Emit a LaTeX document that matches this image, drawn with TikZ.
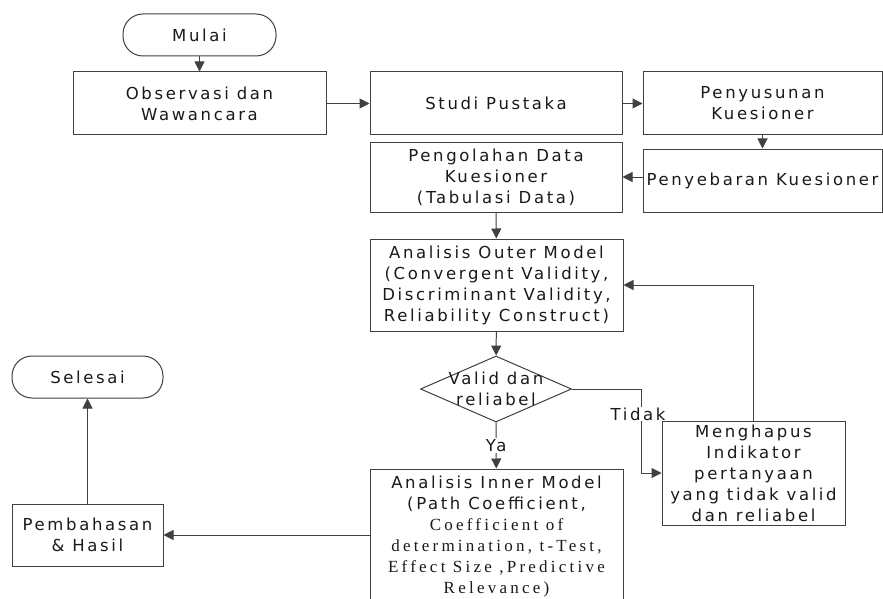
\documentclass[tikz,border=0pt]{standalone}
\usepackage{fontspec}
\usetikzlibrary{arrows.meta,shapes.geometric}
\newfontfamily\diasans{DejaVu Sans}[LetterSpace=16]
\newfontfamily\diaserif{Liberation Serif}[LetterSpace=19]
\definecolor{linec}{HTML}{404040}
\definecolor{textc}{HTML}{1A1A1A}
\begin{document}
\begin{tikzpicture}[x=1pt,y=-1pt,
  procbox/.style={draw=linec, line width=1pt, align=center, inner sep=0pt, text=textc, font=\diasans\fontsize{16.5}{21}\selectfont},
  termbox/.style={procbox, rounded corners=20pt},
  decbox/.style={draw=linec, line width=1pt, diamond, inner sep=0pt},
  conn/.style={draw=linec, line width=1pt, -{Triangle[length=10pt,width=10pt]}},
  lbl/.style={text=textc, font=\diasans\fontsize{16.5}{21}\selectfont, inner sep=1pt, align=center}]
\useasboundingbox[fill=white] (0,0) rectangle (883,599);

\node[termbox, minimum width=153pt, minimum height=42pt] (mulai) at (199.5,35) {Mulai};
\node[procbox, minimum width=253pt, minimum height=63pt] (obs) at (199.5,103.5) {Observasi dan\\Wawancara};
\node[procbox, minimum width=252pt, minimum height=63pt] (studi) at (496,103.5) {Studi Pustaka};
\node[procbox, minimum width=239pt, minimum height=63pt] (penyus) at (762.5,103.5) {Penyusunan\\Kuesioner};
\node[procbox, minimum width=239pt, minimum height=63pt] (penyeb) at (762.5,180.5) {Penyebaran Kuesioner};
\node[procbox, minimum width=252pt, minimum height=70pt] (pengol) at (496,177) {Pengolahan Data\\Kuesioner\\(Tabulasi Data)};
\node[procbox, minimum width=253pt, minimum height=92pt] (outer) at (496.5,285) {Analisis Outer Model\\(Convergent Validity,\\Discriminant Validity,\\Reliability Construct)};
\node[decbox, minimum width=151pt, minimum height=66pt] (dec) at (496,389) {};
\node[lbl] (dectext) at (dec.center) {Valid dan\\reliabel};
\node[procbox, minimum width=253pt, minimum height=135pt] (inner) at (496.5,536.5) {Analisis Inner Model\\(Path Coefficient,\\{\diaserif\fontsize{17}{21}\selectfont Coefficient of}\\{\diaserif\fontsize{17}{21}\selectfont determination, t-Test,}\\{\diaserif\fontsize{17}{21}\selectfont Effect Size ,Predictive}\\{\diaserif\fontsize{17}{21}\selectfont Relevance)}};
\node[procbox, minimum width=183pt, minimum height=104pt] (hapus) at (753.5,473) {Menghapus\\Indikator\\pertanyaan\\yang tidak valid\\dan reliabel};
\node[procbox, minimum width=151pt, minimum height=62pt] (pemb) at (87.5,535) {Pembahasan\\\& Hasil};
\node[termbox, minimum width=151pt, minimum height=42pt] (selesai) at (87.5,377) {Selesai};

\coordinate (tj) at (641,389);

\draw[conn] (mulai) -- (obs);
\draw[conn] (obs) -- (studi);
\draw[conn] (studi) -- (penyus);
\draw[conn] (penyus) -- (penyeb);
\draw[conn] (penyeb.west |- pengol.east) -- (pengol.east);
\draw[conn] (pengol) -- (outer);
\draw[conn] (outer) -- (dec);
\draw[conn] (dec) -- node[lbl, fill=white] (ya) {Ya} (inner);
\draw[conn] (dec.east) -- (tj) |- (hapus.west);
\draw[conn] (hapus.north) |- (outer.east);
\draw[conn] (inner.west |- pemb.east) -- (pemb.east);
\draw[conn] (pemb) -- (selesai);
\node[lbl, fill=white] (tidak) at (638,414) {Tidak};
\end{tikzpicture}
\end{document}
